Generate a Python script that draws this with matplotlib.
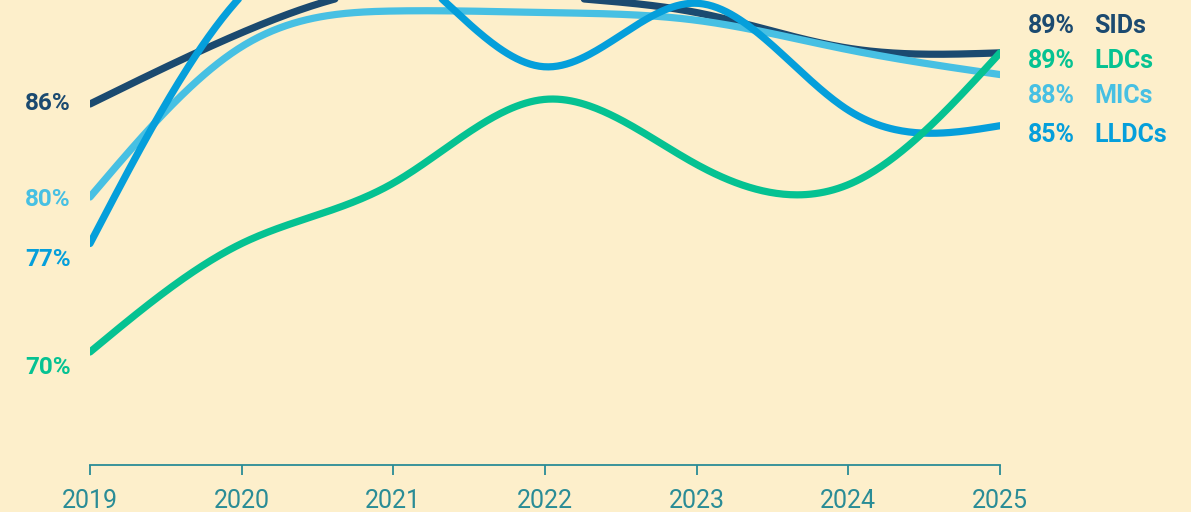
import matplotlib
matplotlib.use("Agg")
import matplotlib.pyplot as plt
import numpy as np

# data
years = [2019, 2020, 2021, 2022, 2023, 2024, 2025]
sids = [86.0, 90.6, 93.5, 93.0, 91.9, 89.6, 89.3]
ldcs = [70.0, 77.0, 80.9, 86.3, 82.1, 80.8, 89.3]
mics = [80.0, 89.7, 92.0, 91.9, 91.4, 89.5, 87.9]
lldcs = [77.0, 93.0, 95.3, 88.4, 92.5, 85.6, 84.6]

names = ["SIDs", "LDCs", "MICs", "LLDCs"]
start_labels = ["86%", "70%", "80%", "77%"]
end_labels = ["89%", "89%", "88%", "85%"]
colors = ["#1B4A70", "#05C292", "#47C0E3", "#059FDB"]

BG = "#FDEFCB"
TEAL = "#2A8C96"


def natural_spline(x, y, n=400):
    x = np.asarray(x, float)
    y = np.asarray(y, float)
    k = len(x)
    h = np.diff(x)
    A = np.zeros((k, k))
    b = np.zeros(k)
    A[0, 0] = A[-1, -1] = 1
    for i in range(1, k - 1):
        A[i, i - 1] = h[i - 1]
        A[i, i] = 2 * (h[i - 1] + h[i])
        A[i, i + 1] = h[i]
        b[i] = 6 * ((y[i + 1] - y[i]) / h[i] - (y[i] - y[i - 1]) / h[i - 1])
    M = np.linalg.solve(A, b)
    xs = np.linspace(x[0], x[-1], n)
    idx = np.clip(np.searchsorted(x, xs) - 1, 0, k - 2)
    x0, x1 = x[idx], x[idx + 1]
    hh = x1 - x0
    t0, t1 = x1 - xs, xs - x0
    ys = (M[idx] * t0**3 + M[idx + 1] * t1**3) / (6 * hh) \
        + (y[idx] / hh - M[idx] * hh / 6) * t0 \
        + (y[idx + 1] / hh - M[idx + 1] * hh / 6) * t1
    return xs, ys


W, H = 1191, 512
fig = plt.figure(figsize=(W / 100, H / 100), dpi=100)
fig.patch.set_facecolor(BG)
ax = fig.add_axes([90 / W, 47 / H, 910 / W, 465 / H])
ax.set_facecolor(BG)

series = {"SIDs": sids, "LDCs": ldcs, "MICs": mics, "LLDCs": lldcs}
draw_order = ["SIDs", "MICs", "LLDCs", "LDCs"]
for name in draw_order:
    i = names.index(name)
    xs, ys = natural_spline(years, series[name])
    ax.plot(xs, ys, color=colors[i], lw=5.2, solid_capstyle="round", zorder=3 + draw_order.index(name))

ax.set_xlim(2019, 2025)
ax.set_ylim(62.71, 92.71)
for s in ["top", "left", "right"]:
    ax.spines[s].set_visible(False)
ax.spines["bottom"].set_color(TEAL)
ax.spines["bottom"].set_linewidth(1.3)
ax.set_yticks([])
ax.set_xticks(years)
ax.set_xticklabels([str(y) for y in years], fontsize=18, color=TEAL,
                   family="Roboto", fontweight="normal")
ax.tick_params(axis="x", length=7.5, width=1.3, color=TEAL, pad=10)

# left labels (pixel positions in the figure)
left_y = [104, 368, 199, 260]
for i in range(4):
    fig.text(71 / W, 1 - left_y[i] / H, start_labels[i], ha="right", va="center",
             fontsize=17.5, fontweight="bold", family="Roboto", color=colors[i])

# right labels
right_y = [26, 61, 96, 135]
for i in range(4):
    fig.text(1028 / W, 1 - right_y[i] / H, end_labels[i], ha="left", va="center",
             fontsize=18, fontweight="bold", family="Roboto", color=colors[i])
    fig.text(1094 / W, 1 - right_y[i] / H, names[i], ha="left", va="center",
             fontsize=18, fontweight="bold", family="Roboto", color=colors[i])

fig.savefig("out.png", dpi=100, facecolor=BG)
